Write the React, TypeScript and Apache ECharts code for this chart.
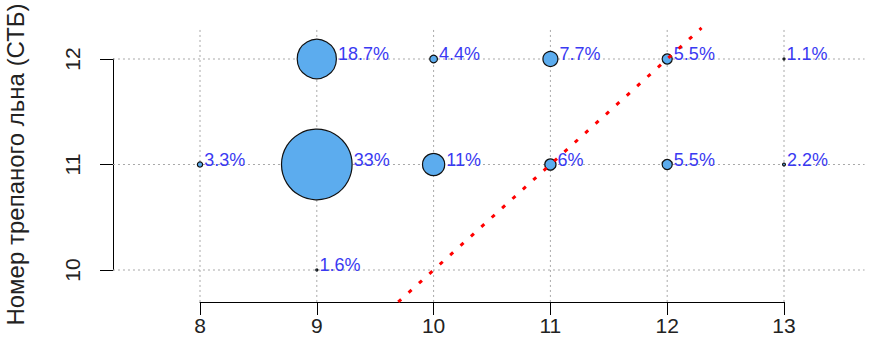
import React, { useEffect, useRef } from "react";
import * as echarts from "echarts";

const bubbleX = [9, 10, 11, 12, 13, 8, 9, 10, 11, 12, 13, 9];
const bubbleY = [12, 12, 12, 12, 12, 11, 11, 11, 11, 11, 11, 10];
const shares = [18.7, 4.4, 7.7, 5.5, 1.1, 3.3, 33, 11, 6, 5.5, 2.2, 1.6];
const xTicks = [8, 9, 10, 11, 12, 13];
const yTicks = [10, 11, 12];
const plotXLim = [7.255, 13.69];
const plotYLim = [9.697, 12.294];
const yTitle = "Номер трепаного льна (СТБ)";

const FONT = "'Liberation Sans', Arial, sans-serif";

function bubbleDiameter(v: number): number {
  const r = Math.max(1, 1.1 * (v - 0.9));
  return 2 * r;
}

export default function App() {
  const ref = useRef<HTMLDivElement>(null);
  useEffect(() => {
    document.body.style.margin = "0";
    if (!ref.current) return;
    const chart = echarts.init(ref.current, undefined, { renderer: "svg" });
    const points = bubbleX.map((x, i) => [x, bubbleY[i], shares[i]]);
    const gridStyle = { stroke: "#a8a8a8", lineWidth: 1, lineDash: [2, 3] };
    chart.setOption({
      animation: false,
      backgroundColor: "#ffffff",
      textStyle: { fontFamily: FONT },
      grid: { left: 200, right: 87, top: 59, bottom: 89, containLabel: false, outerBoundsMode: "none" },
      xAxis: {
        type: "value",
        min: 8,
        max: 13,
        interval: 1,
        offset: 32,
        axisLine: { show: true, lineStyle: { color: "#000", width: 1 } },
        axisTick: { show: true, length: 13, lineStyle: { color: "#000", width: 1 } },
        axisLabel: { fontSize: 21, color: "#222", margin: 13, fontFamily: FONT },
        splitLine: { show: false },
      },
      yAxis: {
        type: "value",
        min: 10,
        max: 12,
        interval: 1,
        offset: 87,
        axisLine: { show: true, lineStyle: { color: "#000", width: 1 } },
        axisTick: { show: true, length: 13, lineStyle: { color: "#000", width: 1 } },
        axisLabel: { fontSize: 21, color: "#222", margin: 30, rotate: 90, fontFamily: FONT },
        splitLine: { show: false },
        name: yTitle,
        nameLocation: "middle",
        nameRotate: 90,
        nameGap: 86,
        nameTextStyle: { fontSize: 24, color: "#222", fontFamily: FONT },
      },
      series: [
        {
          type: "custom",
          clip: false,
          silent: true,
          z: 1,
          data: xTicks.map((v) => [v, 11]),
          renderItem: (_p: any, api: any) => {
            const v = api.value(0);
            const a = api.coord([v, plotYLim[0]]);
            const b = api.coord([v, plotYLim[1]]);
            return { type: "line", shape: { x1: a[0], y1: a[1], x2: b[0], y2: b[1] }, style: gridStyle };
          },
        },
        {
          type: "custom",
          clip: false,
          silent: true,
          z: 1,
          data: yTicks.map((v) => [10, v]),
          renderItem: (_p: any, api: any) => {
            const v = api.value(1);
            const a = api.coord([plotXLim[0], v]);
            const b = api.coord([plotXLim[1], v]);
            return { type: "line", shape: { x1: a[0], y1: a[1], x2: b[0], y2: b[1] }, style: gridStyle };
          },
        },
        {
          type: "scatter",
          clip: false,
          z: 3,
          data: points,
          symbol: "circle",
          symbolSize: (val: number[]) => bubbleDiameter(val[2]),
          itemStyle: { color: "#5CACEE", borderColor: "#111", borderWidth: 1.2, opacity: 1 },
          label: {
            show: true,
            position: "right",
            distance: 1,
            offset: [0, -5],
            formatter: (p: any) => `${p.value[2]}%`,
            color: "#3a3af2",
            fontSize: 18,
            fontFamily: FONT,
          },
        },
        {
          type: "line",
          clip: false,
          z: 4,
          symbol: "none",
          data: [
            [plotYLim[0], plotYLim[0]],
            [plotYLim[1], plotYLim[1]],
          ],
          lineStyle: { color: "#ff0000", width: 3, type: [4, 10] },
        },
      ],
    });
    return () => chart.dispose();
  }, []);
  return <div ref={ref} style={{ width: 871, height: 359 }} />;
}
